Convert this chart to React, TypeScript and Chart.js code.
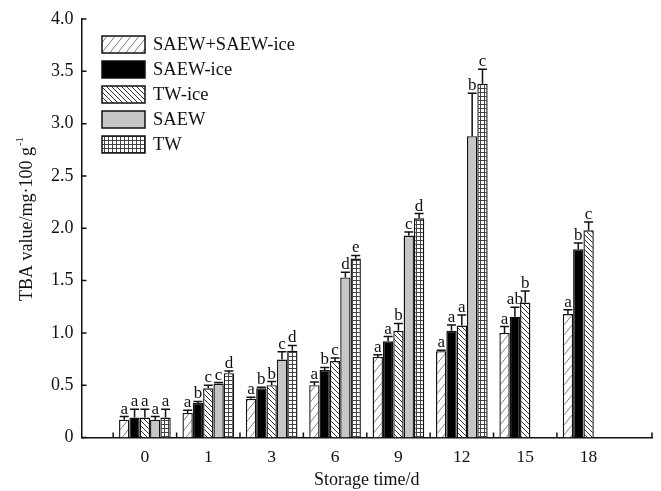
import React, { useEffect, useRef } from 'react';
import { Chart, registerables } from 'chart.js';

Chart.register(...registerables);

// ---- data ----
const categories = ['0', '1', '3', '6', '9', '12', '15', '18'];
const seriesNames = ['SAEW+SAEW-ice', 'SAEW-ice', 'TW-ice', 'SAEW', 'TW'];

const saewPlusIce = [0.17, 0.235, 0.37, 0.5, 0.77, 0.825, 1.0, 1.18];
const saewPlusIceErr = [0.03, 0.025, 0.015, 0.03, 0.02, 0.01, 0.06, 0.04];
const saewPlusIceLetters = ['a', 'a', 'a', 'a', 'a', 'a', 'a', 'a'];

const saewIce = [0.19, 0.33, 0.47, 0.645, 0.92, 1.02, 1.155, 1.8];
const saewIceErr = [0.08, 0.015, 0.01, 0.025, 0.045, 0.055, 0.09, 0.06];
const saewIceLetters = ['a', 'b', 'b', 'b', 'a', 'a', 'ab', 'b'];

const twIce = [0.19, 0.47, 0.5, 0.73, 1.02, 1.07, 1.29, 1.98];
const twIceErr = [0.08, 0.03, 0.035, 0.03, 0.07, 0.1, 0.11, 0.08];
const twIceLetters = ['a', 'c', 'b', 'c', 'b', 'a', 'b', 'c'];

const saew = [0.17, 0.515, 0.745, 1.53, 1.93, 2.88, null, null];
const saewErr = [0.03, 0.01, 0.075, 0.05, 0.035, 0.41, null, null];
const saewLetters = ['a', 'c', 'c', 'd', 'c', 'b', '', ''];

const tw = [0.19, 0.615, 0.83, 1.71, 2.095, 3.38, null, null];
const twErr = [0.08, 0.02, 0.05, 0.03, 0.045, 0.14, null, null];
const twLetters = ['a', 'd', 'd', 'e', 'd', 'c', '', ''];

const yMin = 0;
const yMax = 4;
const yStep = 0.5;

const xTitle = 'Storage time/d';
const yTitleMain = 'TBA value/mg·100 g';
const yTitleSup = '-1';

const FONT = "'Liberation Serif', 'Times New Roman', serif";

function makePattern(kind: string): CanvasPattern | string {
  const c = document.createElement('canvas');
  const g = c.getContext('2d')!;
  if (kind === 'fwd') {
    c.width = 8; c.height = 10;
    g.fillStyle = '#fff'; g.fillRect(0, 0, 8, 10);
    g.strokeStyle = '#808080'; g.lineWidth = 1;
    g.beginPath();
    g.moveTo(0, 10); g.lineTo(8, 0);
    g.moveTo(-8, 10); g.lineTo(0, 0);
    g.moveTo(8, 10); g.lineTo(16, 0);
    g.stroke();
  } else if (kind === 'back') {
    c.width = 5; c.height = 5;
    g.fillStyle = '#fff'; g.fillRect(0, 0, 5, 5);
    g.strokeStyle = '#333'; g.lineWidth = 1;
    g.beginPath();
    g.moveTo(0, 0); g.lineTo(5, 5);
    g.moveTo(-5, 0); g.lineTo(0, 5);
    g.moveTo(5, 0); g.lineTo(10, 5);
    g.stroke();
  } else if (kind === 'grid') {
    c.width = 4; c.height = 4;
    g.fillStyle = '#fff'; g.fillRect(0, 0, 4, 4);
    g.fillStyle = '#444';
    g.fillRect(0, 0, 4, 1);
    g.fillRect(0, 0, 1, 4);
  }
  return g.createPattern(c, 'repeat')!;
}

const pad = (arr: any[]) => [null, ...arr, null];

export default function App() {
  const ref = useRef<HTMLCanvasElement>(null);

  useEffect(() => {
    const canvas = ref.current!;
    const fills = [makePattern('fwd'), '#000000', makePattern('back'), '#c6c6c6', makePattern('grid')];
    const values = [saewPlusIce, saewIce, twIce, saew, tw];
    const errs = [saewPlusIceErr, saewIceErr, twIceErr, saewErr, twErr];
    const letters = [saewPlusIceLetters, saewIceLetters, twIceLetters, saewLetters, twLetters];

    const datasets = seriesNames.map((name, i) => ({
      label: name,
      data: pad(values[i]),
      err: pad(errs[i]),
      letters: pad(letters[i]),
      backgroundColor: fills[i],
      borderColor: '#111',
      borderWidth: 1.4,
      borderSkipped: 'bottom',
      barPercentage: 1.0,
      categoryPercentage: 0.815,
    }));

    const overlay = {
      id: 'overlay',
      afterDatasetsDraw(chart: any) {
        const ctx = chart.ctx;
        const ys = chart.scales.y;
        ctx.save();
        chart.data.datasets.forEach((ds: any, i: number) => {
          const meta = chart.getDatasetMeta(i);
          meta.data.forEach((el: any, j: number) => {
            const v = ds.data[j];
            if (v == null) return;
            const e = ds.err[j] || 0;
            const top = ys.getPixelForValue(v + e);
            ctx.strokeStyle = '#111';
            ctx.lineWidth = 1.5;
            ctx.beginPath();
            ctx.moveTo(el.x, el.y);
            ctx.lineTo(el.x, top);
            ctx.moveTo(el.x - 4.5, top);
            ctx.lineTo(el.x + 4.5, top);
            ctx.stroke();
            const lt = ds.letters[j];
            if (lt) {
              ctx.fillStyle = '#111';
              ctx.font = `17px ${FONT}`;
              ctx.textAlign = 'center';
              ctx.textBaseline = 'alphabetic';
              ctx.fillText(lt, el.x, top - 3);
            }
          });
        });
        ctx.restore();
      },
      afterDraw(chart: any) {
        const ctx = chart.ctx;
        const xs = chart.scales.x;
        const ys = chart.scales.y;
        const ca = chart.chartArea;
        ctx.save();
        ctx.strokeStyle = '#111';
        ctx.lineWidth = 1.5;
        ctx.beginPath();
        const n = chart.data.labels.length;
        for (let k = 0; k < n - 2; k++) {
          const px = (xs.getPixelForValue(k) + xs.getPixelForValue(k + 1)) / 2;
          ctx.moveTo(px, ca.bottom);
          ctx.lineTo(px, ca.bottom - 5);
        }
        ctx.moveTo(ca.right, ca.bottom);
        ctx.lineTo(ca.right, ca.bottom - 5);
        for (const t of ys.ticks) {
          const py = ys.getPixelForValue(t.value);
          ctx.moveTo(ca.left, py);
          ctx.lineTo(ca.left + 5, py);
        }
        ctx.stroke();

        // y title with superscript
        ctx.translate(27, 219);
        ctx.rotate(-Math.PI / 2);
        ctx.fillStyle = '#111';
        ctx.textBaseline = 'middle';
        ctx.textAlign = 'left';
        ctx.font = `18px ${FONT}`;
        const w1 = ctx.measureText(yTitleMain).width;
        ctx.font = `11px ${FONT}`;
        const w2 = ctx.measureText(yTitleSup).width;
        const x0 = -(w1 + w2 + 1) / 2;
        ctx.font = `18px ${FONT}`;
        ctx.fillText(yTitleMain, x0, 0);
        ctx.font = `11px ${FONT}`;
        ctx.fillText(yTitleSup, x0 + w1 + 1, -7);
        ctx.restore();

        // legend
        ctx.save();
        chart.data.datasets.forEach((ds: any, i: number) => {
          const bx = 102, by = 36 + i * 25;
          ctx.fillStyle = ds.backgroundColor;
          ctx.fillRect(bx, by, 43, 17);
          ctx.strokeStyle = '#111';
          ctx.lineWidth = 1.5;
          ctx.strokeRect(bx, by, 43, 17);
          ctx.fillStyle = '#111';
          ctx.font = `18.5px ${FONT}`;
          ctx.textAlign = 'left';
          ctx.textBaseline = 'middle';
          ctx.fillText(ds.label, bx + 51, by + 9);
        });
        ctx.restore();
      },
    };

    const chart = new Chart(canvas, {
      type: 'bar',
      data: { labels: pad(categories).map((c) => (c == null ? '' : c)), datasets: datasets as any },
      options: {
        responsive: false,
        animation: false,
        layout: { padding: { top: 19, right: 9, left: 0, bottom: 0 } },
        plugins: { legend: { display: false }, tooltip: { enabled: false } },
        scales: {
          x: {
            type: 'category',
            offset: false,
            grid: { display: false, drawTicks: false },
            border: { display: true, color: '#111', width: 1.5 },
            ticks: {
              autoSkip: false,
              maxRotation: 0,
              padding: 9,
              color: '#111',
              font: { family: FONT, size: 17.5 },
            },
            title: {
              display: true,
              text: xTitle,
              color: '#111',
              font: { family: FONT, size: 18 },
              padding: { top: 0, bottom: 0 },
            },
            afterFit: (s: any) => { s.height = 53.5; },
          },
          y: {
            min: yMin,
            max: yMax,
            grid: { display: false, drawTicks: false },
            border: { display: true, color: '#111', width: 1.5 },
            ticks: {
              stepSize: yStep,
              padding: 8,
              color: '#111',
              font: { family: FONT, size: 18 },
              callback: (v: any) => (Number(v) === 0 ? '0' : Number(v).toFixed(1)),
            },
            afterFit: (s: any) => { s.width = 81.5; },
          },
        },
      },
      plugins: [overlay],
    });
    return () => chart.destroy();
  }, []);

  return (
    <div style={{ position: 'absolute', left: 0, top: 0, width: 661, height: 491, background: '#fff' }}>
      <canvas ref={ref} width={661} height={491} style={{ display: 'block' }} />
    </div>
  );
}
